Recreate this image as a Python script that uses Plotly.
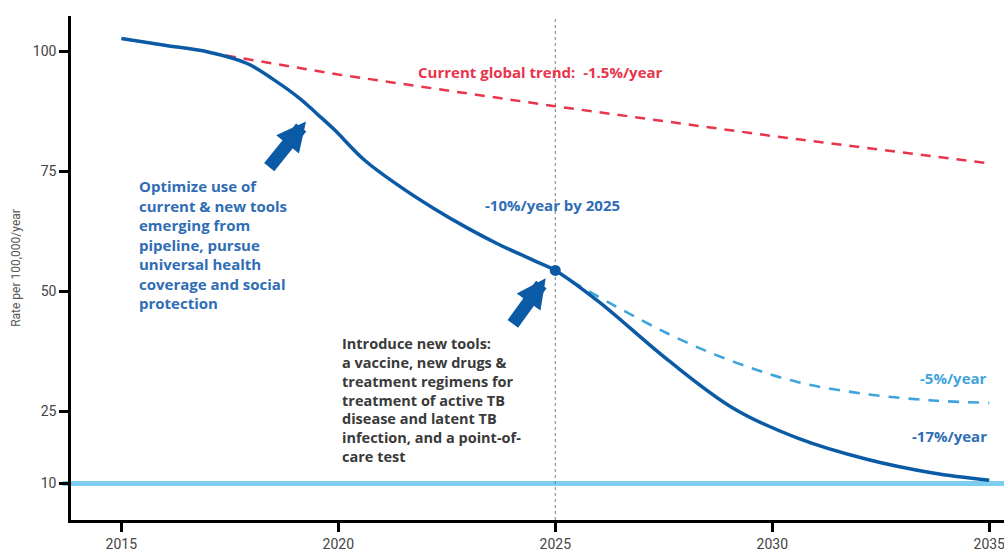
import plotly.graph_objects as go

# Incidence trajectories, rate per 100,000 population per year
years_main = [2015, 2016, 2017, 2017.9, 2018.5, 2019.1, 2019.5, 2019.9, 2020.6, 2021.4,
              2022.2, 2023.0, 2023.7, 2024.5, 2025, 2026.0, 2027.6, 2029.1, 2030.6,
              2032.2, 2033.7, 2035]
rate_main = [102.7, 101.3, 99.9, 97.5, 94.2, 90.3, 87.1, 83.8, 77.4, 72.0,
             67.3, 63.1, 59.8, 56.5, 54.4, 47.9, 35.7, 25.7, 19.4,
             15.0, 12.2, 10.7]

years_trend = [2017, 2020, 2025, 2030, 2035]
rate_trend = [99.8, 95.2, 88.6, 82.4, 76.7]

years_slow = [2025, 2025.5, 2027.6, 2029.1, 2030.6, 2032.2, 2033.7, 2035]
rate_slow = [54.4, 51.5, 41.2, 35.4, 31.1, 28.6, 27.3, 26.8]

milestone_year = [2025]
milestone_rate = [54.4]

target_rate = 10

x_ticks = [2015, 2020, 2025, 2030, 2035]
y_ticks = [10, 25, 50, 75, 100]

DARK_BLUE = "#0B5AA6"
TEXT_BLUE = "#2F6DB5"
LIGHT_BLUE = "#3FA4DE"
TARGET_BLUE = "#7CCDF0"
RED = "#E8344C"
GREY_TEXT = "#3A3A3A"
FONT = "Open Sans"

fig = go.Figure()

fig.add_trace(go.Scatter(
    x=years_trend, y=rate_trend, mode="lines",
    line=dict(color=RED, width=2.5, dash="10px,8px"),
    hoverinfo="skip", showlegend=False))

fig.add_trace(go.Scatter(
    x=years_slow, y=rate_slow, mode="lines",
    line=dict(color=LIGHT_BLUE, width=2.6, dash="11px,9px", shape="spline", smoothing=1.0),
    hoverinfo="skip", showlegend=False))

fig.add_trace(go.Scatter(
    x=years_main, y=rate_main, mode="lines",
    line=dict(color=DARK_BLUE, width=3.5, shape="spline", smoothing=1.0),
    hoverinfo="skip", showlegend=False))

fig.add_trace(go.Scatter(
    x=milestone_year, y=milestone_rate, mode="markers",
    marker=dict(color=DARK_BLUE, size=11),
    hoverinfo="skip", showlegend=False))

# 2035 target line and the 2025 milestone marker line
fig.add_shape(type="line", xref="paper", yref="y", x0=-0.009, x1=1,
              y0=target_rate, y1=target_rate,
              line=dict(color=TARGET_BLUE, width=5), layer="below")
fig.add_shape(type="line", xref="x", yref="paper", x0=2025, x1=2025, y0=0, y1=1,
              line=dict(color="#7A7A7A", width=1, dash="dot"), layer="below")

labels = [
    dict(x=2021.79, y=95.7, text="Current global trend:  -1.5%/year", color=RED,
         xanchor="left"),
    dict(x=2023.33, y=68.0, text="-10%/year by 2025", color=TEXT_BLUE, xanchor="left"),
    dict(x=2035.0, y=32.0, text="-5%/year", color=LIGHT_BLUE, xanchor="right"),
    dict(x=2035.0, y=19.9, text="-17%/year", color=TEXT_BLUE, xanchor="right"),
]
for lb in labels:
    fig.add_annotation(x=lb["x"], y=lb["y"], text=lb["text"], showarrow=False,
                       xanchor=lb["xanchor"], yanchor="middle",
                       font=dict(family=FONT, size=15, color=lb["color"], weight="bold"))

fig.add_annotation(
    x=2015.36, y=59.9, xanchor="left", yanchor="middle", align="left", showarrow=False,
    text="Optimize use of<br>current & new tools<br>emerging from<br>pipeline, pursue"
         "<br>universal health<br>coverage and social<br>protection",
    font=dict(family=FONT, size=15, color=TEXT_BLUE, weight="bold"))

fig.add_annotation(
    x=2020.04, y=27.4, xanchor="left", yanchor="middle", align="left", showarrow=False,
    text="Introduce new tools:<br>a vaccine, new drugs &<br>treatment regimens for"
         "<br>treatment of active TB<br>disease and latent TB<br>infection, and a point-of-"
         "<br>care test",
    font=dict(family=FONT, size=14.5, color=GREY_TEXT, weight="bold"))

# Block arrows pointing at the two phases of the curve
for tip_x, tip_y, dx, dy in [(2019.255, 85.4, -38, 47), (2024.78, 52.75, -34, 47)]:
    fig.add_annotation(x=tip_x, y=tip_y, ax=dx, ay=dy, text="", showarrow=True,
                       arrowhead=2, arrowsize=0.45, arrowwidth=13,
                       arrowcolor=DARK_BLUE, standoff=0)

axis_common = dict(
    showline=True, linecolor="black", linewidth=2.5,
    ticks="outside", ticklen=9, tickwidth=2.5, tickcolor="black",
    showgrid=False, zeroline=False,
    tickfont=dict(family="Roboto", size=14, color="#444444"),
)

fig.update_layout(
    width=1004, height=556,
    margin=dict(l=71, r=0, t=16, b=36),
    paper_bgcolor="white", plot_bgcolor="white",
    xaxis=dict(range=[2013.84, 2035.34], tickvals=x_ticks,
               ticklabeloverflow="allow", **axis_common),
    yaxis=dict(range=[2.4, 107.4], tickvals=y_ticks,
               title=dict(text="Rate per 100,000/year", standoff=10,
                          font=dict(family="Roboto", size=12, color="#555555")),
               **axis_common),
)

fig.write_html("out.html")
